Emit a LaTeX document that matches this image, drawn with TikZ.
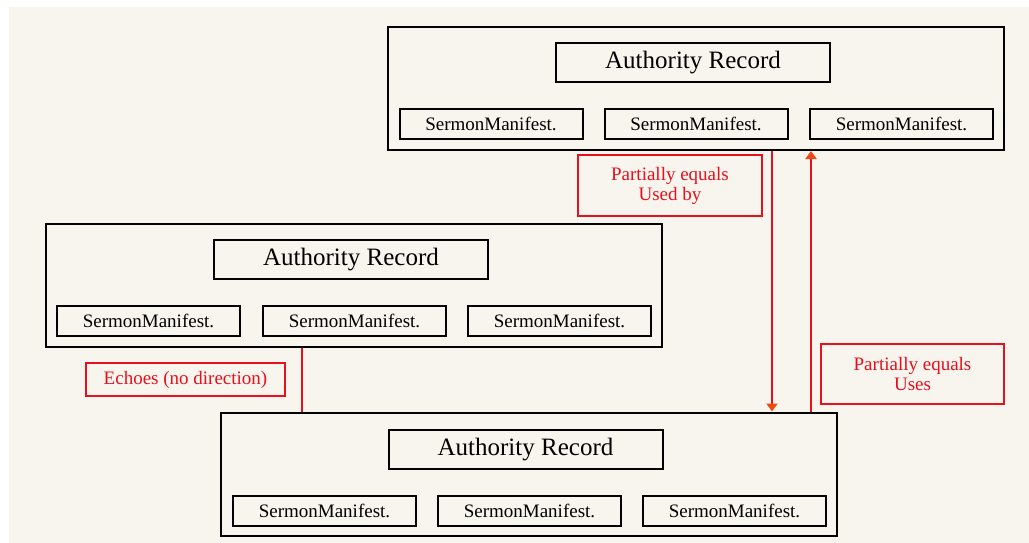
\documentclass[tikz,border=0pt]{standalone}
\usepackage{fontspec}
\setmainfont{Liberation Serif}
\usetikzlibrary{arrows.meta}
\definecolor{bg}{HTML}{F8F4EE}
\definecolor{lred}{HTML}{E8101C}
\definecolor{tipred}{HTML}{EE4A14}
\tikzset{
  x=1pt,y=-1pt,
  outerbox/.style={draw=black,line width=2pt,minimum width=616pt,minimum height=123pt,inner sep=0pt},
  arbox/.style={draw=black,line width=2pt,minimum width=274pt,minimum height=39pt,inner sep=0pt,font=\fontsize{25}{30}\selectfont},
  smbox/.style={draw=black,line width=2pt,minimum width=183pt,minimum height=30pt,inner sep=0pt,font=\fontsize{19}{22}\selectfont},
  lblbox/.style={draw=lred,line width=2pt,text=lred,inner sep=0pt,align=center,font=\fontsize{19}{20}\selectfont},
  redline/.style={draw=lred,line width=2pt},
  arr/.style={redline,-{Triangle[width=11pt,length=8pt,color=tipred]}}
}
\begin{document}
\begin{tikzpicture}
\useasboundingbox (0,0) rectangle (1029,543);
\fill[white] (0,0) rectangle (1029,543);
\fill[bg] (9,7) rectangle (1029,543);
% top group
\node[outerbox] (top) at (696,88.5) {};
\node[arbox] (topar) at (693,62.5) {Authority Record};
\node[smbox] (tops1) at (491,124) {SermonManifest.};
\node[smbox] (tops2) at (696,124) {SermonManifest.};
\node[smbox] (tops3) at (901.5,124) {SermonManifest.};
% middle group
\node[outerbox] (mid) at (354,285) {};
\node[arbox] (midar) at (351,259.5) {Authority Record};
\node[smbox] (mids1) at (148.5,321) {SermonManifest.};
\node[smbox] (mids2) at (354.5,321) {SermonManifest.};
\node[smbox] (mids3) at (559.5,321) {SermonManifest.};
% bottom group
\node[outerbox] (bot) at (529,474) {};
\node[arbox] (botar) at (525.5,449.5) {Authority Record};
\node[smbox] (bots1) at (324.5,511) {SermonManifest.};
\node[smbox] (bots2) at (529.5,511) {SermonManifest.};
\node[smbox] (bots3) at (734.5,511) {SermonManifest.};
% labels
\node[lblbox,minimum width=184pt,minimum height=61pt] (lab1) at (670,185.5) {Partially equals\\Used by};
\node[lblbox,minimum width=183pt,minimum height=60pt] (lab2) at (912.5,374) {Partially equals\\Uses};
\node[lblbox,minimum width=199pt,minimum height=33pt] (lab3) at (185.5,379.5) {Echoes (no direction)};
% connectors
\coordinate (xdown) at (772,0);
\coordinate (xup) at (811,0);
\coordinate (xecho) at (302,0);
\draw[arr] (top.south -| xdown) -- (bot.north -| xdown);
\draw[arr] (bot.north -| xup) -- (top.south -| xup);
\draw[redline] (mid.south -| xecho) -- (bot.north -| xecho);
\end{tikzpicture}
\end{document}
